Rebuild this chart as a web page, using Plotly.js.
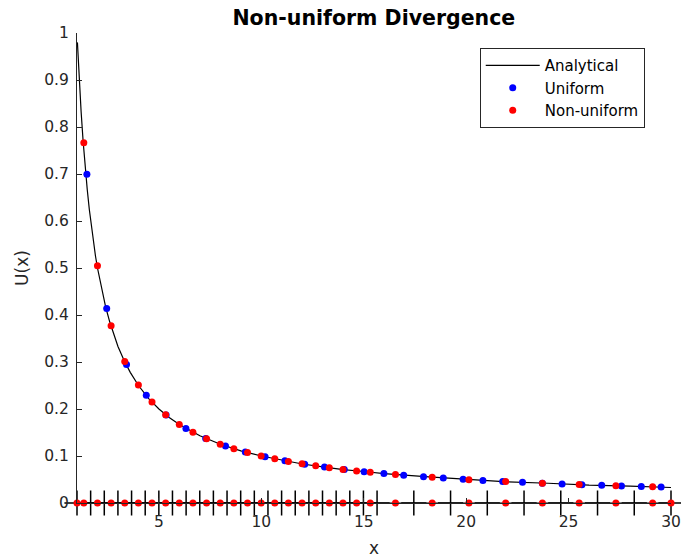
<!DOCTYPE html>
<html><head><meta charset="utf-8">
<script src="https://cdn.plot.ly/plotly-3.0.1.min.js"></script>
<style>body{margin:0;background:#fff}#chart{width:681px;height:559px}</style>
</head><body><div id="chart"></div>
<script>
// Analytical curve
var anaX = [1.02,1.05,1.1,1.15,1.2,1.3,1.4,1.5,1.6,1.7,1.8,1.9,2.0,2.2,2.4,2.6,2.8,3.0,3.3,3.6,4.0,4.5,5,5.5,6,7,8,9,10,11,12,13,14,15,16,18,20,22,24,26,28,30];
var anaY = [0.980,0.952,0.909,0.870,0.833,0.769,0.714,0.667,0.625,0.588,0.556,0.526,0.500,0.455,0.417,0.385,0.357,0.333,0.303,0.278,0.250,0.222,0.200,0.182,0.167,0.143,0.125,0.111,0.100,0.091,0.083,0.077,0.071,0.067,0.0625,0.056,0.050,0.045,0.042,0.038,0.036,0.033];
// Uniform mesh solution
var uniX = [1.483,2.450,3.417,4.383,5.350,6.317,7.283,8.250,9.217,10.183,11.150,12.117,13.083,14.050,15.017,15.983,16.950,17.917,18.883,19.850,20.817,21.783,22.750,23.717,24.683,25.650,26.617,27.583,28.550,29.517];
var uniY = [0.6996,0.4136,0.2946,0.2291,0.1874,0.1586,0.1375,0.1214,0.1086,0.0983,0.0897,0.0826,0.0765,0.0712,0.0666,0.0626,0.0590,0.0558,0.0530,0.0504,0.0480,0.0459,0.0440,0.0422,0.0405,0.0390,0.0376,0.0363,0.0350,0.0339];
// Non-uniform mesh solution
var nonX = [1.333,1.999,2.665,3.331,3.997,4.662,5.328,5.994,6.660,7.326,7.992,8.658,9.324,9.990,10.656,11.322,11.988,12.653,13.319,13.985,14.651,15.317,16.547,18.341,20.134,21.928,23.722,25.516,27.309,29.103];
var nonY = [0.7665,0.5050,0.3772,0.3012,0.2508,0.2149,0.1879,0.1670,0.1503,0.1366,0.1252,0.1155,0.1073,0.1001,0.0939,0.0884,0.0834,0.0791,0.0751,0.0715,0.0683,0.0653,0.0605,0.0546,0.0497,0.0456,0.0422,0.0392,0.0366,0.0344];
// Non-uniform mesh: node points and cell faces along y = 0
var meshNodeX = [1,1.333,1.999,2.665,3.331,3.997,4.662,5.328,5.994,6.660,7.326,7.992,8.658,9.324,9.990,10.656,11.322,11.988,12.653,13.319,13.985,14.651,15.317,16.547,18.341,20.134,21.928,23.722,25.516,27.309,29.103,30];
var meshFaceX = [1,1.666,2.332,2.998,3.664,4.330,4.996,5.661,6.327,6.993,7.659,8.325,8.991,9.657,10.323,10.989,11.655,12.321,12.986,13.652,14.318,14.984,15.65,17.444,19.238,21.031,22.825,24.619,26.413,28.206,30];

var xTicks = [5,10,15,20,25,30];
var yTicks = [0,0.1,0.2,0.3,0.4,0.5,0.6,0.7,0.8,0.9,1];
var yTickText = ['0','0.1','0.2','0.3','0.4','0.5','0.6','0.7','0.8','0.9','1'];

function zeros(a){ return a.map(function(){return 0;}); }

var traces = [
  {x: anaX, y: anaY, mode:'lines', name:'Analytical', line:{color:'#000', width:1.2}, cliponaxis:false},
  {x: uniX, y: uniY, mode:'markers', name:'Uniform', marker:{color:'#0000ff', size:7}, cliponaxis:false},
  {x: nonX, y: nonY, mode:'markers', name:'Non-uniform', marker:{color:'#ff0000', size:7}, cliponaxis:false},
  {x: meshFaceX, y: zeros(meshFaceX), mode:'lines+markers', showlegend:false, line:{color:'#000', width:1.2},
   marker:{symbol:'cross-thin', size:18, color:'#000', line:{color:'#000', width:1.5}}, cliponaxis:false},
  {x: meshNodeX, y: zeros(meshNodeX), mode:'markers', showlegend:false, marker:{color:'#ff0000', size:7}, cliponaxis:false}
];

var layout = {
  width: 681, height: 559,
  margin: {l:77, r:9.5, t:33, b:56},
  paper_bgcolor:'#fff', plot_bgcolor:'#fff',
  font: {family:'DejaVu Sans, sans-serif', size:15.5, color:'#262626'},
  title: {text:'<b>Non-uniform Divergence</b>', x:0.549, xanchor:'center', y:0.969, yanchor:'middle',
          font:{family:'DejaVu Sans, sans-serif', size:20.5, color:'#000'}},
  showlegend: true,
  legend: {x:0.678, y:0.968, xanchor:'left', yanchor:'top', bgcolor:'#fff', bordercolor:'#262626', borderwidth:1,
           font:{size:15, color:'#000'}, tracegroupgap:0, itemwidth:54},
  xaxis: {range:[1,30], tickvals:xTicks, ticktext:xTicks.map(String), ticks:'inside', ticklen:5, tickcolor:'#262626',
          showline:true, linecolor:'#262626', linewidth:1, showgrid:false, zeroline:false, mirror:false,
          ticklabelstandoff:4,
          title:{text:'x', font:{size:17, color:'#262626'}, standoff:12}},
  yaxis: {range:[0,1], tickvals:yTicks, ticktext:yTickText, ticks:'inside', ticklen:5, tickcolor:'#262626',
          showline:true, linecolor:'#262626', linewidth:1, showgrid:false, zeroline:false, mirror:false,
          ticklabelstandoff:4,
          title:{text:'U(x)', font:{size:17, color:'#262626'}, standoff:11}}
};

Plotly.newPlot('chart', traces, layout, {displayModeBar:false, staticPlot:true});
</script>
</body></html>
